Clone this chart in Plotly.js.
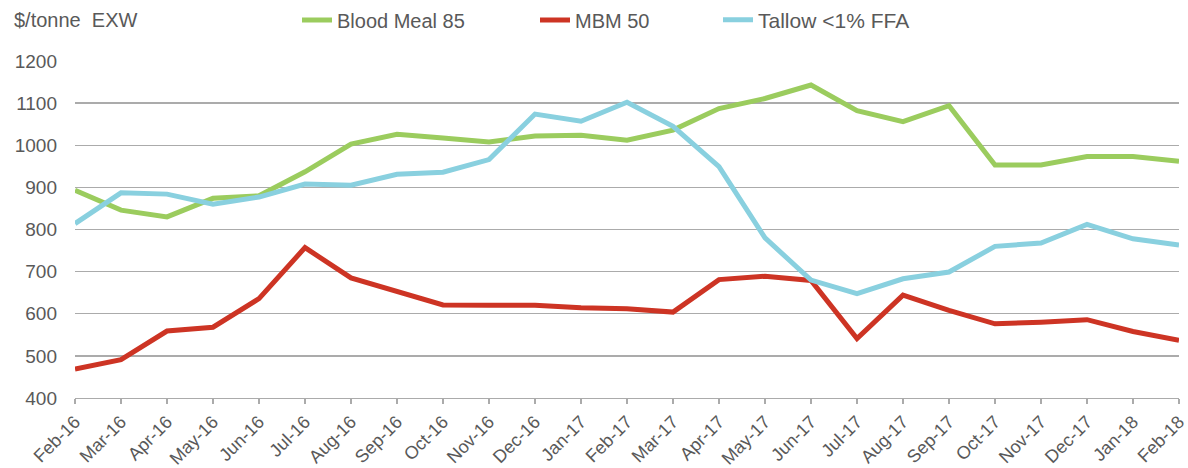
<!DOCTYPE html>
<html>
<head>
<meta charset="utf-8">
<script src="https://cdn.plot.ly/plotly-3.0.1.min.js"></script>
<style>
html,body{margin:0;padding:0;background:#fff;}
#chart{width:1188px;height:468px;}
</style>
</head>
<body>
<div id="chart"></div>
<script>
const months = ["Feb-16","Mar-16","Apr-16","May-16","Jun-16","Jul-16","Aug-16","Sep-16","Oct-16","Nov-16","Dec-16","Jan-17","Feb-17","Mar-17","Apr-17","May-17","Jun-17","Jul-17","Aug-17","Sep-17","Oct-17","Nov-17","Dec-17","Jan-18","Feb-18"];
const bloodMeal85 = [893,846,830,874,880,937,1003,1026,1017,1008,1022,1024,1012,1036,1087,1111,1143,1082,1056,1094,953,953,973,973,962];
const mbm50 = [469,491,559,568,636,757,685,654,621,620,620,614,612,604,681,689,679,541,644,608,576,580,586,558,537];
const tallow = [814,887,884,860,877,908,905,931,936,966,1074,1057,1102,1045,949,780,680,648,683,699,760,768,812,778,763];
const yTicks = [400,500,600,700,800,900,1000,1100,1200];

const textColor = "#595959";
const gridColor = "#ABABAB";
const font = "Liberation Sans, Arial, sans-serif";

const traces = [
  {x: months, y: bloodMeal85, name: "Blood Meal 85", type: "scatter", mode: "lines",
   line: {color: "#9BCC5E", width: 5}, legend: "legend"},
  {x: months, y: mbm50, name: "MBM 50", type: "scatter", mode: "lines",
   line: {color: "#CD3424", width: 5}, legend: "legend2"},
  {x: months, y: tallow, name: "Tallow <1% FFA", type: "scatter", mode: "lines",
   line: {color: "#89D0DF", width: 5}, legend: "legend3"}
];

const legendBase = {
  orientation: "h", xref: "container", yref: "container",
  xanchor: "left", yanchor: "middle", y: 1 - 20/468,
  font: {family: font, size: 20, color: textColor},
  bgcolor: "rgba(0,0,0,0)", borderwidth: 0
};

const layout = {
  width: 1188, height: 468,
  margin: {l: 75, r: 9, t: 61, b: 70},
  paper_bgcolor: "#fff", plot_bgcolor: "#fff",
  font: {family: font, color: textColor},
  showlegend: true,
  legend: Object.assign({}, legendBase, {x: 297/1188}),
  legend2: Object.assign({}, legendBase, {x: 535/1188}),
  legend3: Object.assign({}, legendBase, {x: 718/1188, font: {family: font, size: 21, color: textColor}}),
  xaxis: {
    type: "category", range: [0, months.length - 1],
    showgrid: false, zeroline: false,
    showline: true, linecolor: gridColor, linewidth: 1.3,
    ticks: "outside", ticklen: 5, tickcolor: gridColor, tickwidth: 1.3,
    tickangle: -45,
    tickfont: {family: font, size: 18, color: textColor}
  },
  yaxis: {
    range: [400, 1200], tickvals: yTicks, ticktext: yTicks.map(String),
    showgrid: true, gridcolor: gridColor, gridwidth: 1.3,
    zeroline: false, showline: false, ticks: "",
    ticklabelstandoff: 17,
    tickfont: {family: font, size: 19, color: textColor}
  },
  annotations: [{
    text: "$/tonne  EXW", xref: "paper", yref: "paper",
    x: (12 - 75)/1104, y: 1 + 41/337, xanchor: "left", yanchor: "middle",
    showarrow: false, font: {family: font, size: 20, color: textColor}
  }]
};

Plotly.newPlot("chart", traces, layout, {displayModeBar: false, staticPlot: true});
</script>
</body>
</html>
